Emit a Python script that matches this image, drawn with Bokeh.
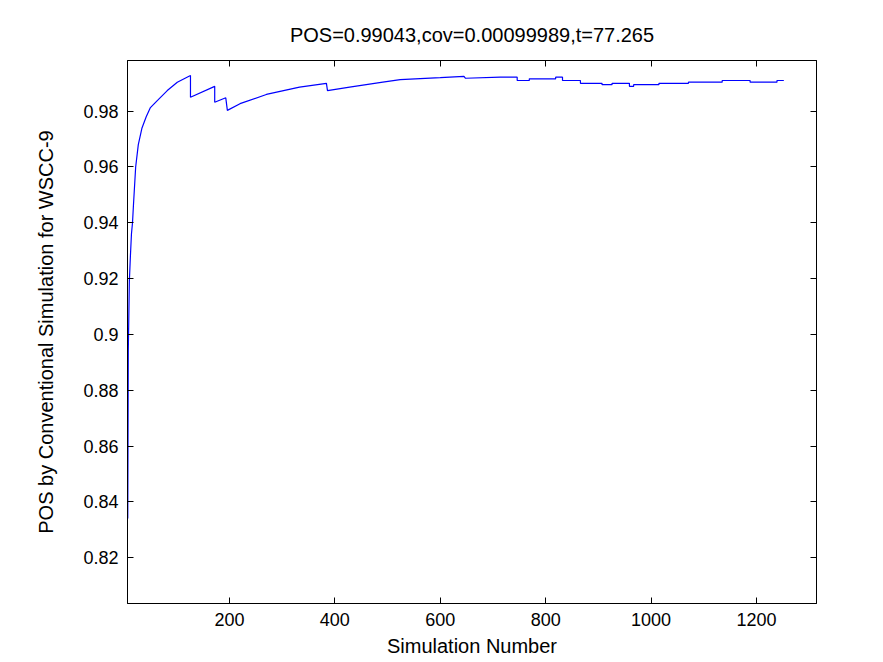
from bokeh.plotting import figure
from bokeh.models import FixedTicker, LinearAxis, CustomJSTickFormatter
from bokeh.embed import file_html
from bokeh.resources import INLINE

# Running POS estimate (x = simulation number)
sim_number = [7, 8, 10, 12, 14, 16, 18, 22, 27, 34, 42, 50, 63, 82, 101, 126, 126, 172, 172, 193, 196,
              220, 270, 333, 384, 386, 428, 491, 524, 600, 645, 648, 714,
              746, 746, 769, 769, 819, 819, 832, 832, 866, 866, 907, 907, 926, 926,
              959, 959, 967, 967, 1015, 1015, 1071, 1071, 1135, 1135, 1188, 1188, 1239, 1239, 1252]
pos_value = [0.834, 0.894, 0.919, 0.928, 0.936, 0.940, 0.947, 0.960, 0.968, 0.974, 0.978, 0.9813,
             0.9838, 0.9874, 0.9904, 0.9928, 0.9850, 0.9889, 0.9832, 0.9848, 0.9803,
             0.9827, 0.9860, 0.9886, 0.9900, 0.9874, 0.9886, 0.9904, 0.9913, 0.9920, 0.9925, 0.9918, 0.9922,
             0.9922, 0.9910, 0.9910, 0.9916, 0.9916, 0.9922, 0.9922, 0.9910, 0.9910, 0.9900, 0.9900, 0.9895,
             0.9895, 0.9900, 0.9900, 0.9889, 0.9889, 0.9895, 0.9895, 0.9900, 0.9900, 0.9904, 0.9904, 0.9910,
             0.9910, 0.9904, 0.9904, 0.9910, 0.9910]

x_ticks = [200, 400, 600, 800, 1000, 1200]
x_tick_labels = ["200", "400", "600", "800", "1000", "1200"]
y_ticks = [0.82, 0.84, 0.86, 0.88, 0.9, 0.92, 0.94, 0.96, 0.98]
y_tick_labels = ["0.82", "0.84", "0.86", "0.88", "0.9", "0.92", "0.94", "0.96", "0.98"]

title_text = "POS=0.99043,cov=0.00099989,t=77.265"
x_label = "Simulation Number"
y_label = "POS by Conventional Simulation for WSCC-9"

FONT = "Liberation Sans"

p = figure(width=883, height=662, x_range=(6.5, 1314), y_range=(0.80355, 0.99817),
           output_backend="svg", toolbar_location=None,
           min_border_left=127, min_border_right=67, min_border_top=60, min_border_bottom=59,
           background_fill_color="white", border_fill_color="white")

p.line(sim_number, pos_value, line_color="#0000ff", line_width=1.2)

p.grid.visible = False
p.outline_line_color = "black"
p.outline_line_width = 1

p.title.text = title_text
p.title.align = "center"
p.title.text_font = FONT
p.title.text_font_size = "20px"
p.title.text_font_style = "normal"
p.title.text_color = "black"
p.title.standoff = 30

def style_axis(ax, ticks):
    ax.ticker = FixedTicker(ticks=ticks)
    ax.major_tick_in = 6
    ax.major_tick_out = 0
    ax.minor_tick_line_color = None
    ax.axis_line_color = "black"
    ax.major_tick_line_color = "black"
    ax.major_label_text_font = FONT
    ax.major_label_text_font_size = "18px"
    ax.major_label_text_color = "black"
    ax.axis_label_text_font = FONT
    ax.axis_label_text_font_size = "20px"
    ax.axis_label_text_font_style = "normal"
    ax.axis_label_text_color = "black"

xa = p.xaxis[0]
style_axis(xa, x_ticks)
xa.major_label_overrides = dict(zip(x_ticks, x_tick_labels))
xa.major_label_standoff = 9
xa.axis_label = x_label
xa.axis_label_standoff = 6

ya = p.yaxis[0]
style_axis(ya, y_ticks)
ya.major_label_overrides = dict(zip(y_ticks, y_tick_labels))
ya.major_label_standoff = 9
ya.axis_label = y_label
ya.axis_label_standoff = 23

blank = CustomJSTickFormatter(code="return ''")
top_axis = LinearAxis(formatter=blank)
style_axis(top_axis, x_ticks)
top_axis.major_label_standoff = 0
right_axis = LinearAxis(formatter=blank)
style_axis(right_axis, y_ticks)
right_axis.major_label_standoff = 0
p.add_layout(top_axis, "above")
p.add_layout(right_axis, "right")

open("out.html", "w").write(file_html(p, INLINE))
